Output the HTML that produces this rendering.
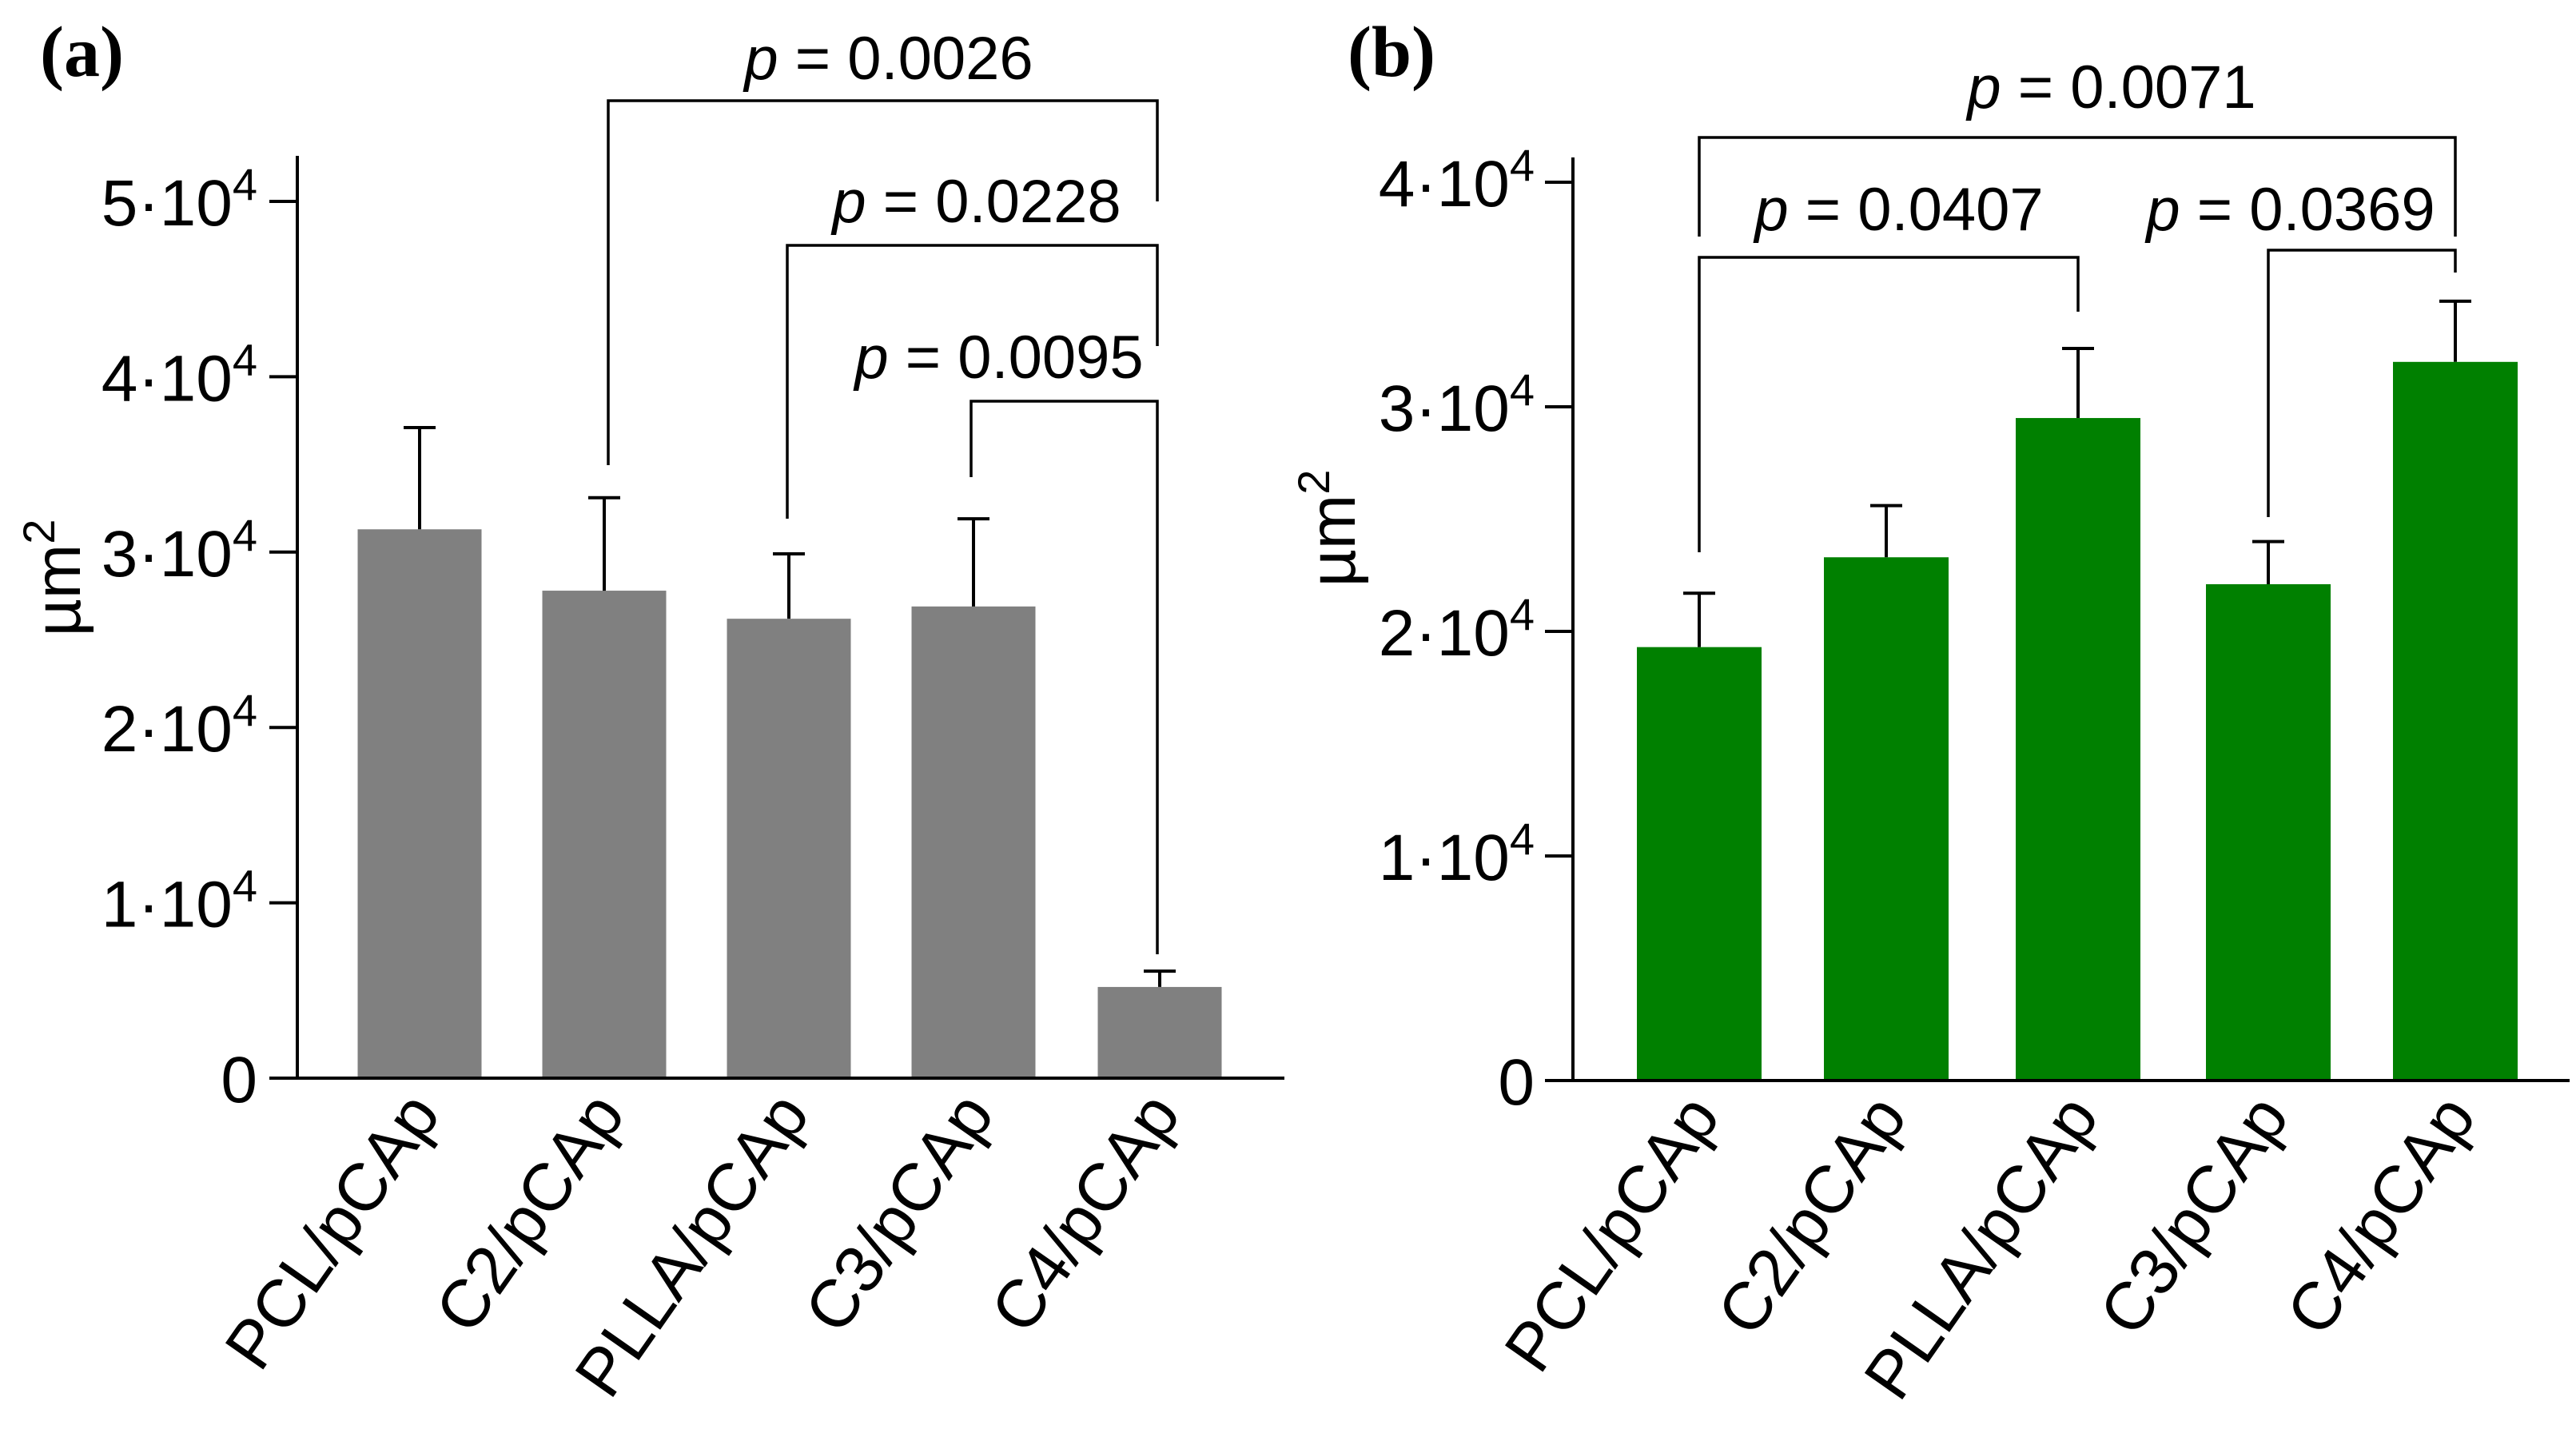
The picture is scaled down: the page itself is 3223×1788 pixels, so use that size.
<!DOCTYPE html>
<html><head><meta charset="utf-8"><style>
html,body{margin:0;padding:0;background:#fff;}
svg{display:block;font-family:"Liberation Sans",sans-serif;}
</style></head><body>
<svg id="chart" width="3223" height="1788" viewBox="0 0 3223 1788" xmlns="http://www.w3.org/2000/svg">
<text x="50" y="95" font-family="Liberation Serif" font-weight="bold" font-size="90">(a)</text>
<text x="1686" y="95" font-family="Liberation Serif" font-weight="bold" font-size="90">(b)</text>
</svg>
<script>
const categories = ["PCL/pCAp","C2/pCAp","PLLA/pCAp","C3/pCAp","C4/pCAp"];
const valuesA = [31300, 27800, 26200, 26900, 5200];
const errorsA = [37100, 33100, 29900, 31900, 6100];
const valuesB = [19300, 23300, 29500, 22100, 32000];
const errorsB = [21700, 25600, 32600, 24000, 34700];
const ticksA = [0,1,2,3,4,5];
const ticksB = [0,1,2,3,4];
const pA = ["p = 0.0026","p = 0.0228","p = 0.0095"];
const pB = ["p = 0.0071","p = 0.0407","p = 0.0369"];

const svg = document.getElementById('chart');
const NS = 'http://www.w3.org/2000/svg';
function mk(tag, attrs){const e=document.createElementNS(NS,tag);for(const k in attrs)e.setAttribute(k,attrs[k]);svg.appendChild(e);return e;}

function panel(cfg){
  const {x0,x1,y0,unit,axisTop,centers,barW,vals,errs,ticks,color,prefix,tickLeft,labelRight,titleX,titleY} = cfg;
  const y = v => y0 - v/10000*unit;
  let e = mk('line',{x1:x0,y1:axisTop,x2:x0,y2:y0,stroke:'#000','stroke-width':4});
  
  
  e = mk('line',{x1:x0-2,y1:y0,x2:x1,y2:y0,stroke:'#000','stroke-width':4});
  
  
  ticks.forEach(t=>{
    const ty=y(t*10000);
    let l = mk('line',{x1:tickLeft,y1:ty,x2:x0,y2:ty,stroke:'#000','stroke-width':4});
    
    
    const tx = mk('text',{x:labelRight,y:ty+30,'font-size':82,'text-anchor':'end'});
    
    
    if(t===0){tx.textContent='0';}
    else{
      tx.appendChild(document.createTextNode(t+'\u00B710'));
      const s=document.createElementNS(NS,'tspan');s.setAttribute('dy','-32');s.setAttribute('font-size','56');s.textContent='4';tx.appendChild(s);
    }
  });
  const tt = mk('text',{x:titleX,y:titleY,'font-size':82,'text-anchor':'middle',transform:`rotate(-90 ${titleX} ${titleY})`});
  
  
  tt.appendChild(document.createTextNode('\u00B5m'));
  const s2=document.createElementNS(NS,'tspan');s2.setAttribute('dy','-32');s2.setAttribute('font-size','56');s2.textContent='2';tt.appendChild(s2);
  categories.forEach((c,i)=>{
    const cx=centers[i];
    const b = mk('rect',{x:cx-barW/2,y:y(vals[i]),width:barW,height:y0-2-y(vals[i]),fill:color});
    
    
    const el = mk('path',{d:`M${cx} ${y(vals[i])} V${y(errs[i])} M${cx-20} ${y(errs[i])} H${cx+20}`,stroke:'#000','stroke-width':4,fill:'none'});
    
    
    const lx=cx+28, ly=y0+45;
    const lab = mk('text',{x:lx,y:ly,'font-size':84,'text-anchor':'end',transform:`rotate(-55 ${lx} ${ly})`});
    
    
    lab.textContent=c;
  });
  cfg.brackets.forEach((br,k)=>{
    const p = mk('path',{d:`M${br.lx} ${br.ly} V${br.y} H${br.rx} V${br.ry}`,stroke:'#000','stroke-width':3.5,fill:'none'});
    
    
    const t = mk('text',{x:br.tx,y:br.ty,'font-size':76,'text-anchor':'middle'});
    
    
    const it=document.createElementNS(NS,'tspan');it.setAttribute('font-style','italic');it.textContent=br.text.slice(0,1);t.appendChild(it);
    t.appendChild(document.createTextNode(br.text.slice(1)));
  });
}

panel({x0:372,x1:1607,y0:1349,unit:219.4,axisTop:195,centers:[525,756,987,1218,1451],barW:155,
  vals:valuesA,errs:errorsA,ticks:ticksA,color:'#808080',prefix:'panel-a',tickLeft:337,labelRight:322,titleX:100,titleY:723,
  brackets:[
    {lx:761,ly:582,y:126,rx:1448,ry:252,tx:1112,ty:99,text:pA[0]},
    {lx:985,ly:649,y:307,rx:1448,ry:433,tx:1222,ty:278,text:pA[1]},
    {lx:1215,ly:597,y:502,rx:1448,ry:1194,tx:1250,ty:473,text:pA[2]}
  ]});
panel({x0:1968,x1:3215,y0:1352,unit:281,axisTop:197,centers:[2126,2360,2600,2838,3072],barW:156,
  vals:valuesB,errs:errorsB,ticks:ticksB,color:'#008000',prefix:'panel-b',tickLeft:1933,labelRight:1920,titleX:1695,titleY:661,
  brackets:[
    {lx:2126,ly:296,y:172,rx:3072,ry:296,tx:2642,ty:135,text:pB[0]},
    {lx:2126,ly:691,y:322,rx:2600,ry:390,tx:2376,ty:288,text:pB[1]},
    {lx:2838,ly:647,y:313,rx:3072,ry:341,tx:2866,ty:288,text:pB[2]}
  ]});
</script>
</body></html>
